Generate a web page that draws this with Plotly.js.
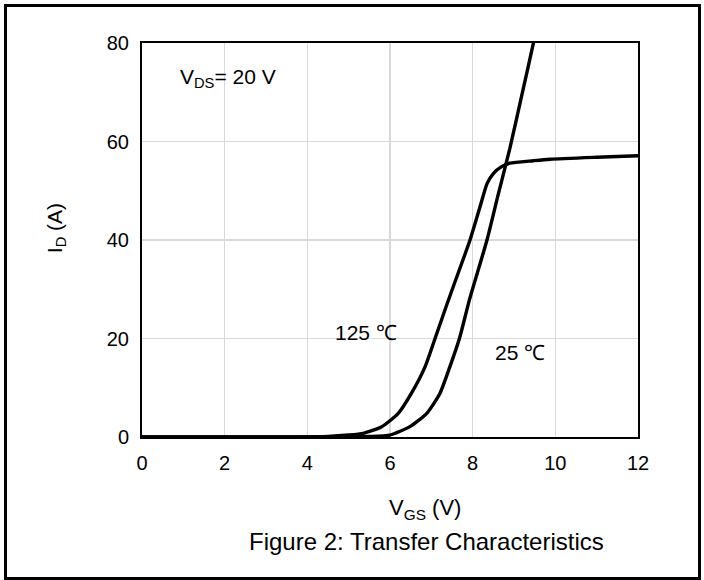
<!DOCTYPE html>
<html>
<head>
<meta charset="utf-8">
<script src="https://cdn.plot.ly/plotly-3.0.1.min.js"></script>
<style>
  html, body { margin: 0; padding: 0; background: #fff; }
  #wrap { position: relative; width: 704px; height: 580px; overflow: hidden; }
  #chart { width: 704px; height: 580px; }
  #frame {
    position: absolute; left: 4px; top: 4px; width: 691px; height: 570px;
    border: 3px solid #000; pointer-events: none;
  }
</style>
</head>
<body>
<div id="wrap">
  <div id="chart"></div>
  <div id="frame"></div>
</div>
<script>
// Drain current vs gate-source voltage at VDS = 20 V
const vgs125 = [0, 3.5, 4.5, 5.0, 5.35, 5.8, 6.2, 6.52, 6.85, 7.09, 7.38, 7.65, 7.94, 8.18, 8.35, 8.5, 8.7, 8.9, 9.47, 9.87, 11, 12];
const id125  = [0, 0.02, 0.12, 0.4, 0.75, 2.1, 4.8, 8.9, 14.3, 20.0, 27.0, 33.3, 40.1, 46.8, 51.5, 53.5, 54.9, 55.6, 56.1, 56.4, 56.8, 57.1];

const vgs25 = [0, 4.5, 5.0, 5.5, 6.0, 6.48, 6.89, 7.21, 7.45, 7.68, 7.92, 8.35, 8.62, 8.9, 9.2, 9.47, 9.6];
const id25  = [0, 0, 0.02, 0.1, 0.4, 2.1, 4.8, 8.9, 14.3, 20.0, 27.8, 40.1, 49.3, 58.6, 69.8, 80, 84.9];

const xTicks = [0, 2, 4, 6, 8, 10, 12];
const yTicks = [0, 20, 40, 60, 80];

const FONT = 'Liberation Sans, Arial, sans-serif';
const TICK_SIZE = 20;
const NOTE_SIZE = 21;

const curve = (x, y) => ({
  x: x, y: y, type: 'scatter', mode: 'lines',
  line: { color: '#000', width: 3.4, shape: 'spline', smoothing: 0.6 },
  hoverinfo: 'skip', showlegend: false
});

const data = [curve(vgs125, id125), curve(vgs25, id25)];

const axisBase = {
  showgrid: true, gridcolor: '#d9d9d9', gridwidth: 1.5,
  showline: true, linecolor: '#000', linewidth: 2, mirror: true,
  zeroline: false, ticks: '', tickfont: { family: FONT, size: TICK_SIZE, color: '#000' }
};

const layout = {
  width: 704, height: 580,
  margin: { l: 142, r: 66, t: 43, b: 143, pad: 0 },
  paper_bgcolor: '#fff', plot_bgcolor: '#fff',
  font: { family: FONT, color: '#000' },
  showlegend: false,
  xaxis: Object.assign({}, axisBase, {
    range: [0, 12], tickvals: xTicks, ticktext: xTicks.map(String),
    ticklabelstandoff: 7
  }),
  yaxis: Object.assign({}, axisBase, {
    range: [0, 80], tickvals: yTicks, ticktext: yTicks.map(String),
    ticklabelstandoff: 7
  }),
  annotations: [
    { xref: 'paper', yref: 'paper', x: 0.0726, y: 0.911, xanchor: 'left', yanchor: 'middle',
      text: 'V<sub>DS</sub>= 20 V', showarrow: false, font: { family: FONT, size: NOTE_SIZE } },
    { xref: 'x', yref: 'y', x: 5.42, y: 21.3, text: '125 \u2103', showarrow: false,
      font: { family: FONT, size: NOTE_SIZE } },
    { xref: 'x', yref: 'y', x: 9.15, y: 17.1, text: '25 \u2103', showarrow: false,
      font: { family: FONT, size: NOTE_SIZE } },
    { xref: 'paper', yref: 'paper', x: -0.2036, y: 0.53, textangle: -90,
      text: 'I<sub>D</sub> (A)', showarrow: false, font: { family: FONT, size: NOTE_SIZE } },
    { xref: 'paper', yref: 'paper', x: 0.5706, y: -0.183, yanchor: 'middle',
      text: 'V<sub>GS</sub> (V)', showarrow: false, font: { family: FONT, size: 22 } },
    { xref: 'paper', yref: 'paper', x: 0.5736, y: -0.264, yanchor: 'middle',
      text: 'Figure 2: Transfer Characteristics', showarrow: false, font: { family: FONT, size: 24 } }
  ]
};

Plotly.newPlot('chart', data, layout, { staticPlot: true, displayModeBar: false });
</script>
</body>
</html>
